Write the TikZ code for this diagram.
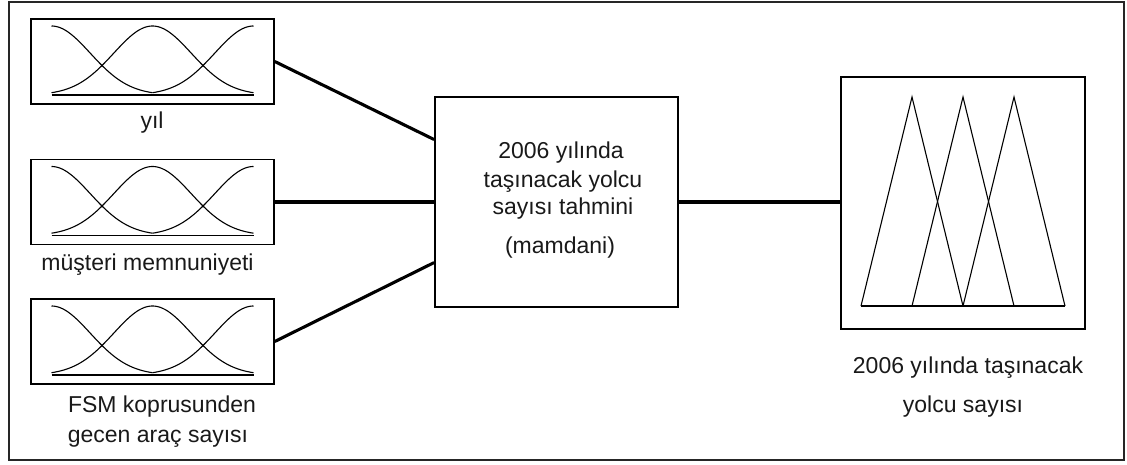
\documentclass[tikz,border=0pt]{standalone}
\usepackage{fontspec}
\setmainfont{Liberation Sans}
\usetikzlibrary{calc}
\newcommand\bellset[1]{%
  \begin{scope}[shift={(#1.center)}]
    \draw[mfline] plot[domain=0:101,samples=60] ({-101+\x},{33.5-69*exp(-(\x*\x)/3000)});
    \draw[mfline] plot[domain=-101:101,samples=90] ({\x},{33.5-69*exp(-(\x*\x)/3000)});
    \draw[mfline] plot[domain=0:101,samples=60] ({101-\x},{33.5-69*exp(-(\x*\x)/3000)});
    \draw[mfline] (-101,33.5) -- (101,33.5);
  \end{scope}}
\begin{document}
\begin{tikzpicture}[x=1pt,y=-1pt,
  mfbox/.style={draw=black,line width=1.5pt,minimum width=243pt,minimum height=85pt,inner sep=0pt},
  sysbox/.style={draw=black,line width=1.8pt,minimum width=243pt,minimum height=210pt,inner sep=0pt},
  outbox/.style={draw=black,line width=1.5pt,minimum width=244pt,minimum height=252pt,inner sep=0pt},
  framebox/.style={draw=black!85,line width=1.2pt,minimum width=1115pt,minimum height=458pt,inner sep=0pt},
  lbl/.style={anchor=base,font=\fontsize{23}{27}\selectfont,text=black!90,inner sep=0pt},
  conn/.style={line width=3.1pt},
  mfline/.style={line width=1.1pt}]
\useasboundingbox (0,0) rectangle (1127,464);
\node[framebox] (frame) at (566.5,231) {};
% input boxes
\node[mfbox] (b1) at (152.5,61.5) {};
\node[mfbox] (b2) at (152.5,202) {};
\node[mfbox] (b3) at (152.5,341.5) {};
\bellset{b1}
\bellset{b2}
\bellset{b3}
\node[lbl] (l1) at (152,128) {yıl};
\node[lbl] (l2) at (147.5,270) {müşteri memnuniyeti};
\node[lbl] (l3a) at (162,412) {FSM koprusunden};
\node[lbl] (l3b) at (158,442) {gecen araç sayısı};
% system box
\node[sysbox] (c) at (556.5,202) {};
\node[lbl] (t1) at (561,158) {2006 yılında};
\node[lbl] (t2) at (563,187) {taşınacak yolcu};
\node[lbl] (t3) at (563,214) {sayısı tahmini};
\node[lbl] (t4) at (560,253) {(mamdani)};
% output box
\node[outbox] (o) at (963,203) {};
\begin{scope}[shift={(o.center)}]
  \draw[mfline] (-102,103) -- (-51,-106) -- (0,103);
  \draw[mfline] (-51,103) -- (0,-106) -- (51,103);
  \draw[mfline] (0,103) -- (51,-106) -- (102,103);
  \draw[mfline] (-102,103) -- (102,103);
\end{scope}
\node[lbl] (r1) at (968,373) {2006 yılında taşınacak};
\node[lbl] (r2) at (963,412) {yolcu sayısı};
% connectors
\draw[conn] (b1.east) -- ($(c.north west)!0.205!(c.south west)$);
\draw[conn] (b2.east) -- (c.west);
\draw[conn] (b3.east) -- ($(c.north west)!0.786!(c.south west)$);
\draw[conn] (c.east) -- (c.east -| o.west);
\end{tikzpicture}
\end{document}
